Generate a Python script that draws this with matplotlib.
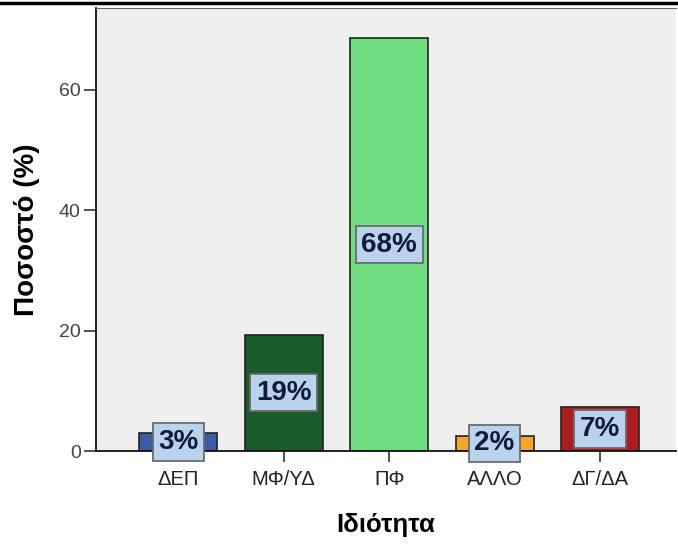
import matplotlib.pyplot as plt

categories = ['ΔΕΠ', 'ΜΦ/ΥΔ', 'ΠΦ', 'ΑΛΛΟ', 'ΔΓ/ΔΑ']
values = [3.0, 19.3, 68.6, 2.5, 7.3]
labels = ['3%', '19%', '68%', '2%', '7%']
colors = ['#3d5aa6', '#175c2a', '#6fdd7f', '#f4a52a', '#ae1b1f']
yticks = [0, 20, 40, 60]

plt.rcParams['font.family'] = ['Liberation Sans', 'DejaVu Sans']

fig = plt.figure(figsize=(6.78, 5.46), dpi=100)
ax = fig.add_axes([96 / 678, 1 - 451 / 546, 580 / 678, 443 / 546])
ax.set_facecolor('#efefef')

x = list(range(len(categories)))
ax.bar(x, values, width=0.74, color=colors, edgecolor='#222222', linewidth=1.2, zorder=2)

for xi, v, lab in zip(x, values, labels):
    ax.text(xi, v / 2, lab, ha='center', va='center', fontsize=20, fontweight='bold',
            color='#121a3a', zorder=3,
            bbox=dict(boxstyle='square,pad=0.2', facecolor='#b9d3ee', edgecolor='#6b6b6b', linewidth=1.3))

ax.set_xlim(-0.78, 4.72)
ax.set_ylim(0, 73.6)
ax.set_xticks(x)
ax.set_xticklabels(categories, fontsize=14.5, color='#222222')
ax.set_yticks(yticks)
ax.set_yticklabels([str(t) for t in yticks], fontsize=14, color='#444444')
ax.tick_params(axis='x', direction='out', length=8, width=1.2, color='#333333', pad=6)
ax.tick_params(axis='y', direction='out', length=9, width=1.2, color='#333333', pad=2)

for s in ['left', 'bottom']:
    ax.spines[s].set_color('#111111')
    ax.spines[s].set_linewidth(1.3)
ax.spines['top'].set_color('#666666')
ax.spines['right'].set_visible(False)

ax.set_ylabel('Ποσοστό (%)', fontsize=20, fontweight='bold')
ax.yaxis.label.set_verticalalignment('center')
ax.yaxis.set_label_coords(-0.119, 0.5)
ax.set_xlabel('Ιδιότητα', fontsize=18.5, fontweight='bold')
ax.xaxis.label.set_verticalalignment('center')
ax.xaxis.set_label_coords(0.5, -0.167)

# black frame line across the top
fig.add_artist(plt.Line2D([0, 1], [1 - 3 / 546, 1 - 3 / 546], color='black', linewidth=2.5))

fig.savefig('out.png', dpi=100)
